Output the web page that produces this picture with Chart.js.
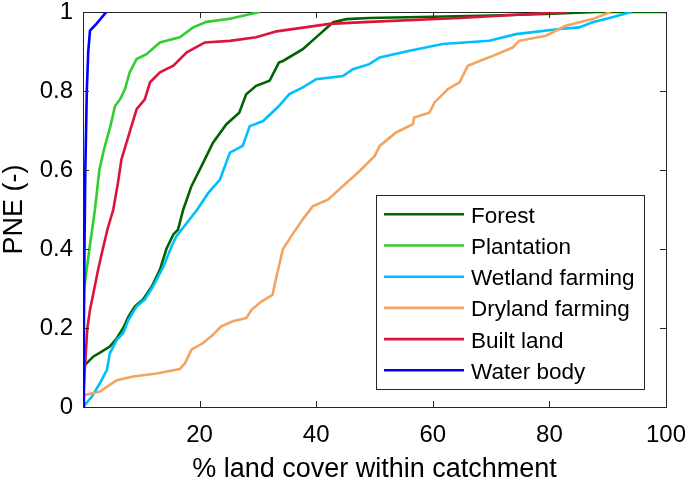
<!DOCTYPE html>
<html>
<head>
<meta charset="utf-8">
<script src="https://cdn.jsdelivr.net/npm/chart.js@4.4.1/dist/chart.umd.min.js"></script>
<style>
    body { margin: 0; background: #fff; }
    #wrapperGrafico { width: 685px; height: 486px; }
</style>
</head>
<body>
<div id="wrapperGrafico"><canvas id="grafico"></canvas></div>
<script>
// curve cumulative: x = % copertura, y = PNE
const forestX = [0, 0, 1.8, 3.2, 4.6, 5.8, 6.9, 7.8, 8.9, 10.3, 11.8, 13.2, 14.3, 15.5, 16.3, 17.2, 18.6, 20.6, 22.3, 24.6, 26.8, 28.0, 29.7, 32.0, 33.6, 34.3, 37.7, 40.6, 42.9, 45.2, 49.1, 60, 70, 79.4, 88, 100]
const forestY = [0, 0.102, 0.128, 0.14, 0.153, 0.174, 0.2, 0.229, 0.255, 0.272, 0.305, 0.348, 0.4, 0.437, 0.449, 0.5, 0.559, 0.618, 0.669, 0.716, 0.745, 0.792, 0.813, 0.826, 0.872, 0.876, 0.906, 0.944, 0.974, 0.982, 0.985, 0.988, 0.991, 0.995, 1, 1]

const plantationX = [0, 0.1, 0.2, 1.1, 2.05, 2.8, 3.6, 4.7, 5.5, 6.4, 7.2, 8.0, 9.2, 10.9, 13.2, 16.6, 18.9, 21.2, 25.2, 30.3]
const plantationY = [0, 0.25, 0.30, 0.40, 0.50, 0.60, 0.652, 0.711, 0.762, 0.78, 0.805, 0.847, 0.881, 0.893, 0.923, 0.936, 0.961, 0.975, 0.983, 1]

const wetlandX = [0, 1.5, 2.9, 4.1, 4.6, 5.8, 6.9, 7.8, 9.2, 10.6, 12.0, 13.8, 15.2, 16.0, 17.8, 19.6, 21.5, 23.5, 25.2, 27.4, 28.6, 30.9, 33.6, 35.4, 37.7, 40.0, 44.6, 46.3, 49.1, 50.9, 56.0, 61.7, 69.7, 74.3, 81.7, 85.1, 87.4, 90.8, 94.0]
const wetlandY = [0, 0.026, 0.06, 0.094, 0.136, 0.17, 0.187, 0.221, 0.255, 0.272, 0.305, 0.356, 0.407, 0.432, 0.466, 0.5, 0.542, 0.576, 0.644, 0.661, 0.711, 0.724, 0.762, 0.792, 0.809, 0.83, 0.838, 0.855, 0.868, 0.885, 0.902, 0.919, 0.927, 0.944, 0.957, 0.961, 0.974, 0.987, 1]

const drylandX = [0, 0.2, 2.9, 4.6, 5.8, 8.6, 12.6, 16.6, 17.5, 18.6, 20.6, 22.3, 23.7, 25.7, 28.0, 28.9, 30.6, 32.5, 33.2, 34.3, 35.7, 37.7, 39.4, 42.0, 47.4, 50.0, 50.9, 53.7, 56.6, 56.8, 59.4, 60.3, 62.6, 64.6, 66.0, 68.0, 70.3, 73.7, 74.8, 79.4, 82.8, 87.4, 90.5]
const drylandY = [0, 0.03, 0.039, 0.056, 0.068, 0.077, 0.085, 0.096, 0.111, 0.145, 0.162, 0.183, 0.204, 0.217, 0.225, 0.246, 0.267, 0.284, 0.331, 0.40, 0.432, 0.475, 0.508, 0.525, 0.597, 0.635, 0.661, 0.695, 0.716, 0.733, 0.745, 0.771, 0.805, 0.822, 0.864, 0.876, 0.889, 0.91, 0.927, 0.94, 0.965, 0.982, 1]

const builtX = [0, 0.3, 0.75, 1.2, 1.8, 2.6, 3.4, 4.2, 5.2, 6.0, 6.6, 7.8, 9.2, 10.6, 11.5, 13.2, 15.5, 17.8, 20.9, 25.2, 29.7, 32.5, 33.2, 42.3, 49.1, 64.6, 83]
const builtY = [0, 0.094, 0.2, 0.246, 0.289, 0.348, 0.40, 0.45, 0.5, 0.568, 0.627, 0.686, 0.754, 0.779, 0.822, 0.847, 0.864, 0.898, 0.923, 0.927, 0.936, 0.948, 0.951, 0.970, 0.975, 0.985, 1]

const waterX = [0, 0.15, 0.25, 0.4, 0.65, 0.9, 1.2, 2.3, 4.0]
const waterY = [0, 0.2, 0.4, 0.6, 0.8, 0.9, 0.953, 0.97, 1.0]

const etichette = ['Forest', 'Plantation', 'Wetland farming', 'Dryland farming', 'Built land', 'Water body']
const colori = ['#006400', '#32cd32', '#00bfff', '#f4a460', '#dc143c', '#0000ff']
const serieX = [forestX, plantationX, wetlandX, drylandX, builtX, waterX]
const serieY = [forestY, plantationY, wetlandY, drylandY, builtY, waterY]

const xTicks = [0, 20, 40, 60, 80, 100]
const yTicks = [0, 0.2, 0.4, 0.6, 0.8, 1]

const FONT = 'Liberation Sans, Arial, Helvetica, sans-serif'
const NERO = '#000000'
const ASSE = '#262626'

function punti(xs, ys) {
    let out = []
    for(let i=0;i<xs.length;i++)
        out.push({x: xs[i], y: ys[i]})
    return out
}

let datasets = []
etichette.forEach((nome, i) => {
    datasets.push({
        label: nome,
        data: punti(serieX[i], serieY[i]),
        borderColor: colori[i],
        backgroundColor: colori[i],
        borderWidth: 2.6,
        pointRadius: 0,
        tension: 0,
        fill: false,
        order: etichette.length - i   // l'ultima serie sta sopra
    })
})

// cornice del grafico, sotto le linee
const cornice = {
    id: 'cornice',
    beforeDatasetsDraw(chart) {
        const {ctx, chartArea: a} = chart
        ctx.save()
        ctx.strokeStyle = ASSE
        ctx.lineWidth = 1
        ctx.strokeRect(a.left + 0.5, a.top + 0.5, a.right - a.left, a.bottom - a.top)
        ctx.restore()
    },
    afterDatasetsDraw(chart) {
        // tacche verso l'interno su tutti e quattro i lati
        const {ctx, chartArea: a, scales} = chart
        const len = 6
        ctx.save()
        ctx.strokeStyle = ASSE
        ctx.lineWidth = 1
        ctx.beginPath()
        xTicks.forEach((v) => {
            let px = Math.round(scales.x.getPixelForValue(v)) + 0.5
            ctx.moveTo(px, a.bottom); ctx.lineTo(px, a.bottom - len)
            ctx.moveTo(px, a.top); ctx.lineTo(px, a.top + len)
        })
        yTicks.forEach((v) => {
            let py = Math.round(scales.y.getPixelForValue(v)) + 0.5
            ctx.moveTo(a.left, py); ctx.lineTo(a.left + len, py)
            ctx.moveTo(a.right, py); ctx.lineTo(a.right - len, py)
        })
        ctx.stroke()
        ctx.restore()
    }
}

// legenda in un riquadro dentro l'area del grafico
const legendaBox = {
    id: 'legendaBox',
    afterDraw(chart) {
        const {ctx, chartArea: a} = chart
        const w = 268, h = 194
        const x0 = a.right - 22 - w
        const y0 = a.bottom - 18 - h
        ctx.save()
        ctx.fillStyle = '#ffffff'
        ctx.fillRect(x0, y0, w, h)
        ctx.strokeStyle = ASSE
        ctx.lineWidth = 1
        ctx.strokeRect(x0 + 0.5, y0 + 0.5, w, h)
        ctx.font = '22.5px ' + FONT
        ctx.textBaseline = 'alphabetic'
        ctx.textAlign = 'left'
        etichette.forEach((nome, i) => {
            let y = y0 + 19.3 + i * 31.2
            ctx.strokeStyle = colori[i]
            ctx.lineWidth = 2.6
            ctx.beginPath()
            ctx.moveTo(x0 + 8, y)
            ctx.lineTo(x0 + 88, y)
            ctx.stroke()
            ctx.fillStyle = NERO
            ctx.fillText(nome, x0 + 95, y + 8.5)
        })
        ctx.restore()
    }
}

new Chart(document.getElementById('grafico'), {
    type: 'line',
    data: { datasets: datasets },
    plugins: [cornice, legendaBox],
    options: {
        responsive: true,
        maintainAspectRatio: false,
        animation: false,
        layout: { padding: { top: 12, right: 19, left: 0, bottom: 0 } },
        plugins: {
            legend: { display: false },
            tooltip: { enabled: false }
        },
        scales: {
            x: {
                type: 'linear',
                min: 0,
                max: 100,
                afterBuildTicks: (scale) => { scale.ticks = xTicks.map((v) => ({value: v})) },
                afterFit: (scale) => {
                    scale.height = 79
                    scale.paddingLeft = 0
                    scale.paddingRight = 0
                },
                grid: { display: false, drawTicks: false },
                border: { display: false },
                ticks: {
                    padding: 16,
                    color: NERO,
                    font: { family: FONT, size: 24, lineHeight: 1 },
                    maxRotation: 0,
                    callback: (v) => v == 0 ? '' : v
                },
                title: {
                    display: true,
                    text: '% land cover within catchment',
                    color: NERO,
                    padding: 0,
                    font: { family: FONT, size: 27, lineHeight: 1.2 }
                }
            },
            y: {
                type: 'linear',
                min: 0,
                max: 1,
                afterBuildTicks: (scale) => { scale.ticks = yTicks.map((v) => ({value: v})) },
                afterFit: (scale) => {
                    scale.width = 83
                    scale.paddingTop = 0
                    scale.paddingBottom = 0
                },
                grid: { display: false, drawTicks: false },
                border: { display: false },
                ticks: {
                    padding: 10,
                    color: NERO,
                    font: { family: FONT, size: 24, lineHeight: 1 },
                    callback: (v) => String(v)
                },
                title: {
                    display: true,
                    text: 'PNE (-)',
                    color: NERO,
                    padding: 0,
                    font: { family: FONT, size: 27, lineHeight: 1.1 }
                }
            }
        }
    }
})
</script>
</body>
</html>
